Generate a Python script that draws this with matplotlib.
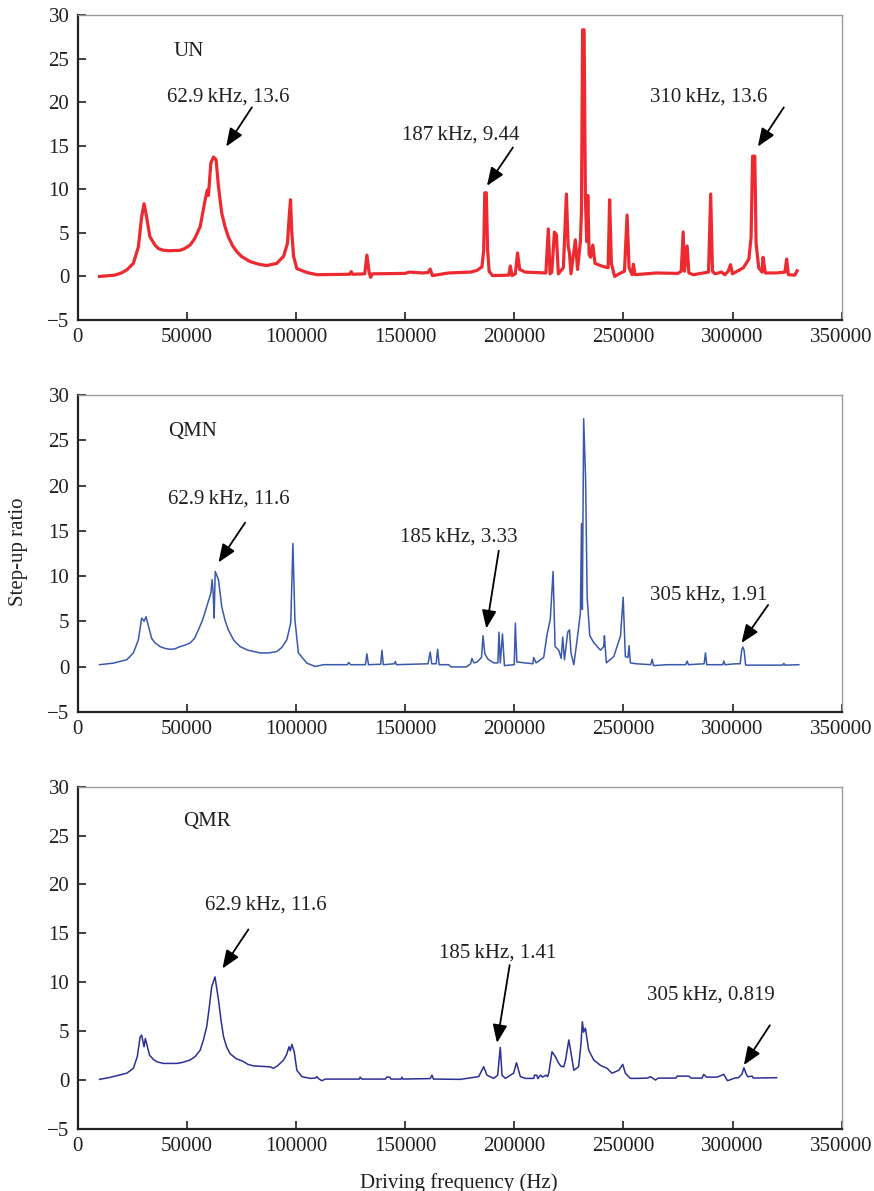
import numpy as np
import matplotlib
matplotlib.use("Agg")
import matplotlib.pyplot as plt

plt.rcParams["font.family"] = ["Liberation Serif", "DejaVu Serif"]

# ---- data (frequency in kHz, step-up ratio) ----
un_khz = [10, 17, 20, 22.5, 25.5, 27.8, 29.3, 30.4, 31.3, 33.1, 35.4, 37, 39.3, 42, 46.9, 49,
          51.5, 53.5, 56.1, 58.4, 59.4, 59.9, 61, 62.2, 63.4, 64.5, 66, 67.5, 69, 71, 72.9,
          75, 79, 83, 86.6, 91.2, 94.3, 96.1,
          97, 97.5, 98.1, 98.9, 100.4, 105, 109.6, 124.5, 125.3, 126, 131.5, 132.5, 133.5,
          134.2, 135, 150, 152, 158, 160.5, 161.5, 162.5, 170, 180, 183, 185.2, 186.0,
          186.5, 187.2, 187.8, 188.5, 190, 197.5, 198.2, 199, 200.5, 201.5, 202.5, 205,
          214.5, 215.6, 216.4, 217.2, 218.4, 219.3, 220.2, 222.5, 223.9, 224.7, 225.3, 226,
          228, 229, 230.3, 230.8, 231.3, 232.0, 232.6, 233.2, 233.7, 234.3, 235, 236, 237,
          240, 243, 243.7, 244.5, 246, 248, 250.5, 251.7, 252.6, 254, 254.6, 255.3, 260,
          265, 275, 276.5, 277.4, 278, 279.2, 280, 282, 289, 290, 290.8, 292, 295, 296.5,
          298, 299.1, 300, 305, 307.5, 308.5, 309.2, 310.2, 310.8, 312, 313.5, 314, 315,
          320, 324, 324.8, 325.6, 328.5, 329.6]
un_ratio = [0.0, 0.15, 0.4, 0.75, 1.5, 3.4, 6.85, 8.35, 7.2, 4.55, 3.6, 3.2, 3.0, 2.95, 3.0, 3.2,
            3.6, 4.3, 5.7, 8.8, 9.9, 9.3, 13.0, 13.7, 13.4, 10.3, 7.25, 5.7, 4.55, 3.5, 2.85,
            2.3, 1.7, 1.4, 1.25, 1.5, 2.3, 3.8,
            7.25, 8.8, 5.0, 2.3, 0.9, 0.45, 0.2, 0.25, 0.55, 0.25, 0.3, 2.45, 0.5,
            -0.1, 0.3, 0.35, 0.5, 0.4, 0.45, 0.85, 0.1, 0.4, 0.5, 0.7, 1.1, 3.0,
            9.6, 9.6, 3.0, 0.6, 0.1, 0.15, 1.2, 0.1, 0.3, 2.7, 0.8, 0.5,
            0.4, 5.45, 0.3, 0.5, 5.1, 4.8, 0.3, 1.0, 9.45, 3.5, 2.7, 0.3,
            4.2, 0.8, 4.0, 7.5, 28.3, 28.3, 9.0, 4.0, 9.3, 2.5, 2.2, 3.6, 1.5,
            1.2, 1.0, 8.8, 1.5, 0.0, 0.3, 0.6, 7.05, 1.0, 0.2, 1.4, 0.2, 0.3,
            0.4, 0.35, 0.6, 5.1, 0.6, 3.5, 0.4, 0.2, 0.5, 9.45, 0.6, 0.3, 0.5, 0.2,
            0.6, 1.35, 0.3, 1.0, 2.0, 4.5, 13.8, 13.8, 3.8, 1.0, 0.5, 2.2, 0.4,
            0.4, 0.5, 2.0, 0.2, 0.15, 0.65]

qmn_khz = [10, 16.3, 22.5, 25.5, 27.8, 29.3, 30.4, 31.3, 33.9, 35.5, 37.7, 40, 42.3, 44.5,
           46.9, 49, 51.5, 53.5, 55.3, 57.3, 59.1, 61, 61.6, 62.1, 62.5, 63, 64.5, 66, 67.5,
           69, 71.5, 74.4, 78, 83.6, 87.5, 91.2, 93.5, 95.8, 97.6, 98.6,
           99.5, 101.1, 105, 108.8, 112.6, 123.5, 124.2, 125, 131.8, 132.5, 133.2, 138.8,
           139.4, 140, 145, 145.5, 146, 160.5, 161.5, 162.2, 164.2, 164.9, 165.6, 170, 171,
           178, 180, 180.6, 181.5, 183, 185, 185.7, 186.5, 188, 190.6, 192.5, 193, 193.6,
           194.6, 195.5, 200, 200.5, 201.2, 205, 208.5, 208.9, 210, 213.5, 215, 216.5, 217.8,
           218.7, 220.4, 221.5, 222.2, 223, 224.5, 225.3, 226, 227.3, 228.8, 230.3, 230.8,
           231.2, 231.8, 232.7, 233.4, 234.6, 236.4, 239.5, 241, 241.3, 242.2, 245.6, 248.7,
           249.9, 250.9, 252.1, 252.6, 253.2, 256, 262.5, 263.2, 263.8, 270, 278.5, 279.2,
           279.8, 287, 287.6, 288.2, 295.5, 296, 296.6, 301.4, 303.5, 304.2, 304.7, 305.3,
           306, 323, 323.5, 324, 330.4]
qmn_ratio = [0.2, 0.37, 0.75, 1.5, 2.95, 5.35, 5.0, 5.5, 3.1, 2.6, 2.2, 2.0, 1.9, 1.95,
             2.2, 2.35, 2.6, 3.1, 4.05, 5.2, 6.6, 8.1, 9.6, 8.0, 5.35, 10.5, 9.6, 6.6, 5.1,
             4.05, 2.9, 2.2, 1.8, 1.5, 1.5, 1.65, 2.1, 2.95, 4.8, 13.6,
             5.2, 1.5, 0.37, 0.0, 0.2, 0.2, 0.45, 0.2, 0.2, 1.4, 0.2, 0.25,
             1.8, 0.2, 0.3, 0.55, 0.2, 0.3, 1.6, 0.3, 0.3, 1.9, 0.2, 0.2, -0.05,
             -0.05, 0.3, 0.9, 0.4, 0.5, 1.0, 3.4, 1.4, 0.8, 0.4, 0.4, 3.8, 0.4,
             3.6, 0.1, 0.2, 4.8, 0.5, 0.4, 0.3, 1.0, 0.4, 1.0, 3.5, 5.2, 10.5,
             2.2, 1.8, 0.9, 3.25, 0.75, 3.8, 4.05, 1.5, 0.2, 2.95, 5.9, 15.8,
             6.3, 27.4, 20.6, 7.7, 3.4, 2.65, 1.8, 2.2, 3.4, 0.4, 1.1, 3.4,
             7.65, 1.1, 1.0, 2.3, 0.4, 0.3, 0.2, 0.8, 0.1, 0.2, 0.2, 0.6,
             0.2, 0.3, 1.5, 0.2, 0.2, 0.6, 0.2, 0.3, 0.3, 1.8, 2.15, 1.8,
             0.15, 0.15, 0.35, 0.15, 0.2]

qmr_khz = [10, 14.8, 22.5, 25.5, 27.3, 28.6, 29.3, 30.4, 31, 32.9, 34.7, 36.5, 39.3, 45.4, 48,
           51.5, 53.8, 56.1, 57.6, 59.1, 60.2, 61.4, 62.9, 64.5, 65.6, 66.8, 68.2, 69.8, 72.5,
           75.9, 78, 80.5, 88.2, 89.7, 91.8, 94.3, 95.7, 96.8,
           97.4, 98.1, 99.2, 100.4, 102.7, 106.5, 108.9, 109.6, 110.3, 111.9, 113.4, 129,
           129.4, 130.2, 141, 141.6, 143, 143.5, 148.2, 148.5, 149, 161.5, 162.3, 163, 175.3,
           183.7, 186, 187.5, 190.6, 192.4, 193.6, 194.4, 195.9, 199.7, 201, 202.8, 205.1,
           208.9, 209.3, 210.3, 210.8, 212, 213, 214.5, 215.3, 215.8, 217.3, 218.8, 220.4,
           221.5, 222.7, 223.5, 225, 225.8, 227.3, 229.5, 230.6, 231.2, 231.8, 232.6, 234.1,
           236.4, 239.5, 242.5, 244.8, 247.9, 249.7, 250.9, 253.2, 256, 261, 262.4, 264.7,
           266, 274, 274.6, 280, 281, 286, 286.8, 288, 293, 296, 297.7, 301, 302.7, 304.3,
           305.2, 306.3, 307, 309, 309.5, 320.2]
qmr_ratio = [0.07, 0.27, 0.7, 1.2, 2.4, 4.4, 4.6, 3.4, 4.25, 2.55, 2.1, 1.85, 1.7, 1.7, 1.8,
             2.05, 2.4, 3.05, 4.1, 5.45, 7.3, 9.55, 10.55, 8.2, 6.2, 4.45, 3.4, 2.7, 2.2,
             1.9, 1.6, 1.45, 1.35, 1.2, 1.5, 2.05, 2.6, 3.4,
             3.0, 3.65, 2.9, 1.0, 0.35, 0.17, 0.2, 0.35, 0.15, -0.07, 0.1, 0.1,
             0.3, 0.1, 0.1, 0.3, 0.3, 0.1, 0.1, 0.3, 0.1, 0.15, 0.5, 0.1, 0.07,
             0.35, 1.36, 0.5, 0.17, 0.5, 3.34, 0.5, 0.17, 0.7, 1.77, 0.35, 0.17,
             0.17, 0.5, 0.5, 0.15, 0.5, 0.3, 0.5, 0.35, 0.7, 2.9, 2.4, 1.7,
             1.4, 1.36, 2.05, 4.1, 3.06, 1.0, 1.36, 3.75, 5.96, 4.9, 5.3, 3.06,
             2.05, 1.5, 1.2, 0.7, 1.0, 1.6, 0.7, 0.17, 0.17, 0.2, 0.35, 0.0,
             0.2, 0.2, 0.4, 0.4, 0.2, 0.2, 0.58, 0.3, 0.3, 0.58, -0.07, 0.2, 0.24, 0.6,
             1.26, 0.6, 0.34, 0.4, 0.2, 0.24]

panel_names = ["UN", "QMN", "QMR"]
line_colors = ["#ec2a30", "#3a59ad", "#2b3096"]
line_widths = [2.3, 1.1, 1.1]

# label text, label (x kHz, y), arrow tail (x kHz, y), arrow tip (x kHz, y)
notes = [
    [("62.9\u2009kHz, 13.6", (40.8, 20.6), (79.8, 19.4), (68.0, 14.9)),
     ("187\u2009kHz, 9.44", (148.5, 16.2), (199.4, 14.8), (187.5, 10.4)),
     ("310\u2009kHz, 13.6", (262.1, 20.6), (323.5, 19.4), (311.6, 14.9))],
    [("62.9\u2009kHz, 11.6", (41.5, 18.5), (76.7, 15.9), (64.5, 11.5)),
     ("185\u2009kHz, 3.33", (147.8, 14.3), (192.9, 12.8), (187.2, 4.2)),
     ("305\u2009kHz, 1.91", (262.4, 7.9), (316.3, 6.8), (304.1, 2.6))],
    [("62.9\u2009kHz, 11.6", (58.4, 17.9), (78.2, 15.4), (66.3, 11.4)),
     ("185\u2009kHz, 1.41", (165.3, 12.95), (197.9, 11.75), (192.1, 3.8)),
     ("305\u2009kHz, 0.819", (260.9, 8.7), (317.1, 5.6), (305.2, 1.53))],
]
name_pos = [(43.7, 25.8), (41.5, 26.0), (48.4, 26.4)]

series = [(un_khz, un_ratio), (qmn_khz, qmn_ratio), (qmr_khz, qmr_ratio)]

fig = plt.figure(figsize=(8.74, 11.91), dpi=100)
boxes = [[0.0889, 0.7313, 0.8741, 0.2561],
         [0.0889, 0.4024, 0.8741, 0.2659],
         [0.0889, 0.0521, 0.8741, 0.2874]]

txt = "#231f20"
for i, (f_khz, ratio) in enumerate(series):
    ax = fig.add_axes(boxes[i])
    ax.plot(np.array(f_khz) * 1000, ratio, color=line_colors[i], lw=line_widths[i],
            solid_joinstyle="round")
    ax.set_xlim(0, 350000)
    ax.set_ylim(-5, 30)
    ax.set_xticks(np.arange(0, 350001, 50000))
    ax.set_yticks(np.arange(-5, 31, 5))
    ax.tick_params(direction="in", length=6, width=1.2, labelsize=15, pad=6,
                   colors=txt, top=False, right=False)
    for s in ["left", "bottom"]:
        ax.spines[s].set_linewidth(1.6)
        ax.spines[s].set_color("#222222")
    for s in ["top", "right"]:
        ax.spines[s].set_linewidth(1.0)
        ax.spines[s].set_color("#999999")

    nx, ny = name_pos[i]
    ax.text(nx * 1000, ny, panel_names[i], fontsize=15, color=txt, ha="left", va="center")
    for label, (lx, ly), (tx, ty), (hx, hy) in notes[i]:
        ax.text(lx * 1000, ly, label, fontsize=15, color=txt, ha="left", va="center")
        ax.annotate("", xy=(hx * 1000, hy), xytext=(tx * 1000, ty),
                    arrowprops=dict(arrowstyle="-|>,head_length=0.55,head_width=0.22",
                                    mutation_scale=20, color="black", lw=1.3,
                                    shrinkA=0, shrinkB=0))

fig.text(0.0206, 0.5368, "Step-up ratio", rotation=90, fontsize=15, color=txt,
         ha="center", va="center")
fig.text(0.525, 0.0067, "Driving frequency (Hz)", fontsize=15, color=txt,
         ha="center", va="center")

fig.savefig("out.png", dpi=100)
